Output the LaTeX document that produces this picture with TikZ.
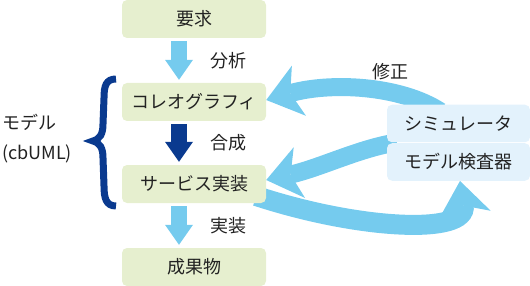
\documentclass[tikz,border=0pt]{standalone}
\usepackage{fontspec}
\setmainfont{Noto Sans CJK JP}
\usetikzlibrary{arrows.meta,backgrounds,calc}
\definecolor{boxgreen}{HTML}{E6EFCF}
\definecolor{boxblue}{HTML}{E3F2FC}
\definecolor{arrowblue}{HTML}{75CBEE}
\definecolor{darkblue}{HTML}{0A3A8F}
\definecolor{textgray}{HTML}{222222}

\begin{document}
\begin{tikzpicture}[x={(1pt,0pt)},y={(0pt,-1pt)},
  every node/.style={font=\fontsize{18}{20}\selectfont, text=textgray},
  stagebox/.style={fill=boxgreen, rounded corners=5pt, minimum width=144pt, minimum height=38pt, inner sep=0pt},
  toolbox/.style={fill=boxblue, rounded corners=5pt, minimum width=143pt, minimum height=37.5pt, inner sep=0pt},
  flowarrow/.style={line width=16pt, -{Triangle[length=20pt,width=28pt,line width=0pt]}, shorten <=3pt, shorten >=3pt},
  backarrow/.style={arrowblue, line width=18pt, -{Stealth[length=34pt,width=52pt,inset=9pt,line width=0pt]}}]
\useasboundingbox (0,0) rectangle (530,286);
% stages
\foreach \name/\ypos/\txt in {req/19/要求, choreo/102/コレオグラフィ, svc/184/サービス実装, result/267/成果物} {
\node[stagebox] (\name) at (194,\ypos) {\txt};
}
% tools
\node[toolbox] (sim) at (458.5,123.5) {シミュレータ};
\node[toolbox] (checker) at (458.5,162) {モデル検査器};
% flow
\draw[flowarrow, arrowblue] ([xshift=-15pt]req.south) -- ([xshift=-15pt]choreo.north) node[midway, right=20pt] (analysis) {分析};
\draw[flowarrow, darkblue] ([xshift=-15pt]choreo.south) -- ([xshift=-15pt]svc.north) node[midway, right=20pt] (compose) {合成};
\draw[flowarrow, arrowblue] ([xshift=-15pt]svc.south) -- ([xshift=-15pt]result.north) node[midway, right=20pt] (implement) {実装};
% feedback
\begin{scope}[on background layer]
\draw[backarrow] ([xshift=-18pt,yshift=-7pt]sim.north) .. controls (400,85) and (330,82) .. ([yshift=2pt]choreo.east);
\draw[backarrow] ([xshift=10pt]sim.south west) .. controls (360,148) and (320,168) .. ([yshift=4pt]svc.east);
\draw[backarrow, line width=20pt] ([xshift=-10pt,yshift=-12pt]svc.east) .. controls (360,230) and (468,235) .. ([xshift=1.5pt]checker.south);
\end{scope}
\node (fix) at (390,72) {修正};
% brace
\draw[darkblue, line width=7pt] (116,79) .. controls (106,79) and (104,86) .. (104,98) -- (103,124) .. controls (103,134) and (100,139) .. (93,141) .. controls (100,143) and (103,148) .. (103,158) -- (104,186) .. controls (104,198) and (106,206) .. (116,206);
\node[anchor=west, inner sep=0pt] (model) at (2,122) {モデル};
\node[anchor=west, inner sep=0pt] (cbuml) at (2,154) {(cbUML)};
\end{tikzpicture}
\end{document}
